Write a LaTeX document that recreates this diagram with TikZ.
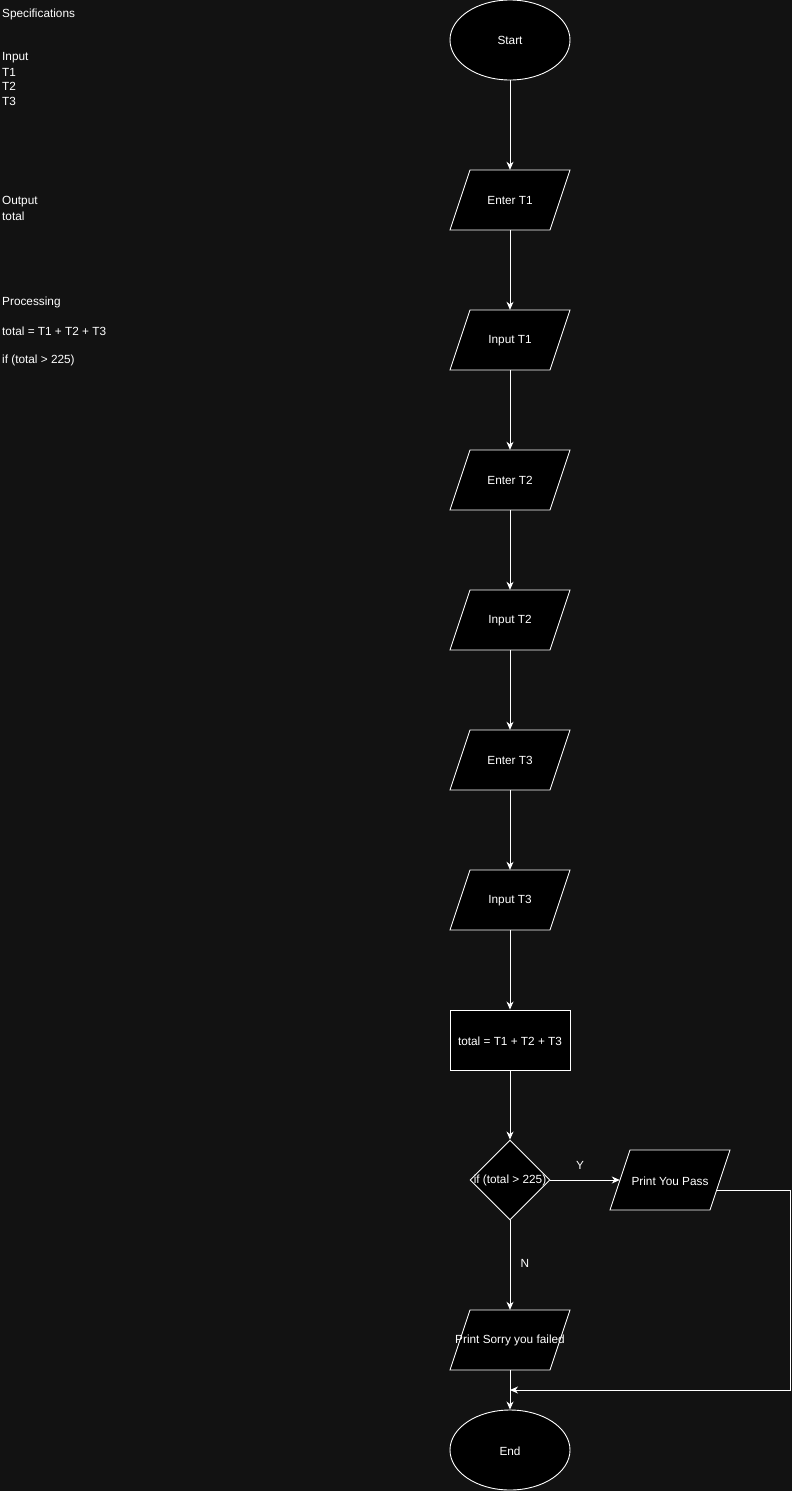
\documentclass[tikz,border=0pt]{standalone}
\usepackage{fontspec}
\setmainfont{Liberation Sans}
\usetikzlibrary{shapes.geometric,arrows.meta}
\definecolor{bgc}{HTML}{121212}
\newcommand\fsz{\fontsize{11.8}{14}\selectfont}
\tikzset{
  base/.style={draw=white, fill=black, text=white, line width=0.9pt, inner sep=0pt, font=\fsz},
  term/.style={base, ellipse, minimum width=120pt, minimum height=80pt},
  pbox/.style={draw=white, fill=black, line width=0.9pt, line join=miter},
  iot/.style={rectangle, text=white, inner sep=0pt, minimum width=120pt, minimum height=60pt, font=\fsz},
  proc/.style={base, rectangle, minimum width=120pt, minimum height=60pt},
  dec/.style={base, diamond, minimum width=80pt, minimum height=80pt, aspect=1},
  lbl/.style={text=white, inner sep=0pt, font=\fsz, anchor=west, yshift=-0.8pt},
  elbl/.style={text=white, inner sep=0pt, font=\fsz, yshift=-0.8pt},
  conn/.style={draw=white, line width=0.9pt, -{Stealth[length=8pt,width=7pt,inset=2.5pt]}}
}
\newcommand\iobox[4]{%
  \filldraw[pbox] (#2-60,#3+30) -- (#2+40,#3+30) -- (#2+60,#3-30) -- (#2-40,#3-30) -- cycle;
  \node[iot] (#1) at (#2,#3) {};
  \node[elbl] (#1t) at (#2,#3) {#4};}
\begin{document}
\begin{tikzpicture}[x=1pt,y=-1pt]
\fill[bgc] (0,0) rectangle (792,1491);
\useasboundingbox (0,0) rectangle (792,1491);
% left specification text
\node[lbl] (s1) at (2,14) {Specifications};
\node[lbl] (s2) at (2,57) {Input};
\node[lbl] (s3) at (2,71.5) {T1};
\node[lbl] (s4) at (2,86) {T2};
\node[lbl] (s5) at (2,100.5) {T3};
\node[lbl] (s6) at (2,200.5) {Output};
\node[lbl] (s7) at (2,215) {total};
\node[lbl] (s8) at (2,301.5) {Processing};
\node[lbl] (s9) at (2,330.5) {total = T1 + T2 + T3};
\node[lbl] (s10) at (2,360) {if (total > 225)};
% flowchart
\node[term] (start) at (510,40) {};
\node[elbl] (startt) at (510,40) {Start};
\iobox{e1}{510}{200}{Enter T1}
\iobox{i1}{510}{340}{Input T1}
\iobox{e2}{510}{480}{Enter T2}
\iobox{i2}{510}{620}{Input T2}
\iobox{e3}{510}{760}{Enter T3}
\iobox{i3}{510}{900}{Input T3}
\node[proc] (tot) at (510,1040) {};
\node[elbl] (tott) at (510,1040) {total = T1 + T2 + T3};
\node[dec] (d) at (510,1180) {};
\node[elbl] (dt) at (510,1180) {if (total > 225)};
\iobox{pass}{670}{1180}{Print You Pass}
\iobox{fail}{510}{1340}{Print Sorry you failed}
\node[term] (end) at (510,1450) {};
\node[elbl] (endt) at (510,1450) {End};
\coordinate (m) at (510,1390);
\coordinate (pr) at (717,1190);
\coordinate (c1) at (790,1190);
\coordinate (c2) at (790,1390);
% connectors
\draw[conn] (start) -- (e1);
\draw[conn] (e1) -- (i1);
\draw[conn] (i1) -- (e2);
\draw[conn] (e2) -- (i2);
\draw[conn] (i2) -- (e3);
\draw[conn] (e3) -- (i3);
\draw[conn] (i3) -- (tot);
\draw[conn] (tot) -- (d);
\draw[conn] (d.east) -- ([xshift=10pt]pass.west);
\draw[conn] (d) -- (fail);
\draw[conn] (fail) -- (end);
\draw[conn] (pr) -- (c1) -- (c2) -- (m);
\node[elbl] (ly) at (580,1165) {Y};
\node[elbl] (ln) at (525,1263) {N};
\end{tikzpicture}
\end{document}
